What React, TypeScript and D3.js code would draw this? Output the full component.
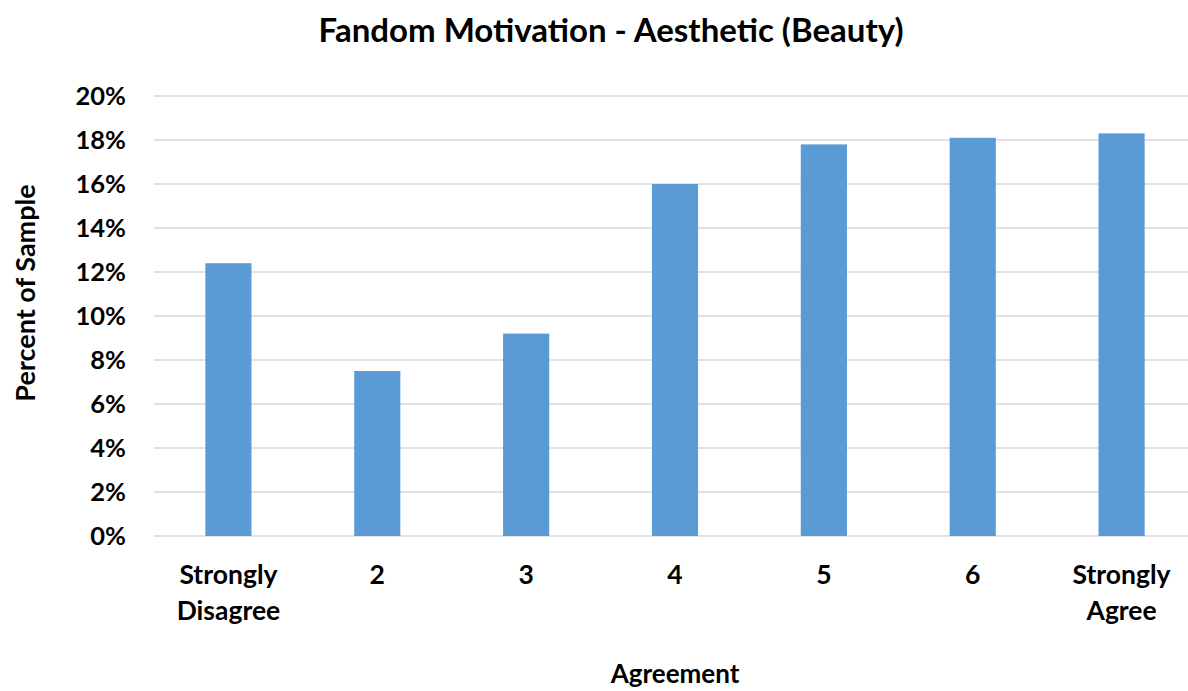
import React, { useRef, useEffect } from 'react';
import * as d3 from 'd3';

// Agreement categories (multi-line labels split on \n)
const categories = ['Strongly\nDisagree', '2', '3', '4', '5', '6', 'Strongly\nAgree'];
const percents = [12.4, 7.5, 9.2, 16.0, 17.8, 18.1, 18.3];
const yTicks = [0, 2, 4, 6, 8, 10, 12, 14, 16, 18, 20];

const W = 1188;
const H = 691;
const FONT = 'Lato, "Open Sans", "DejaVu Sans", sans-serif';
const BAR = '#5b9bd5';

export default function App() {
  const svgRef = useRef<SVGSVGElement>(null);

  useEffect(() => {
    if (!svgRef.current) return;
    const svg = d3.select(svgRef.current);
    svg.selectAll('*').remove();

    const margin = { top: 96, right: -8, bottom: 155, left: 154 };
    const iw = W - margin.left - margin.right;
    const ih = H - margin.top - margin.bottom;

    const g = svg.append('g').attr('transform', `translate(${margin.left},${margin.top})`);

    const x = d3.scaleBand().domain(categories).range([0, iw]).paddingInner(0.69).paddingOuter(0.345);
    const y = d3.scaleLinear().domain([0, 20]).range([ih, 0]);

    // gridlines
    g.selectAll('line.grid').data(yTicks).join('line')
      .attr('class', 'grid')
      .attr('x1', 0).attr('x2', iw)
      .attr('y1', d => y(d)).attr('y2', d => y(d))
      .attr('stroke', '#d9d9d9').attr('stroke-width', 1.5);

    // y tick labels
    g.selectAll('text.ytick').data(yTicks).join('text')
      .attr('class', 'ytick')
      .attr('x', -28)
      .attr('y', d => y(d))
      .attr('dy', '0.35em')
      .attr('text-anchor', 'end')
      .style('font-family', FONT).style('font-weight', 700).style('font-size', '25.5px')
      .style('fill', '#000')
      .text(d => `${d}%`);

    // bars
    g.selectAll('rect.bar').data(percents).join('rect')
      .attr('class', 'bar')
      .attr('x', (_, i) => x(categories[i]) || 0)
      .attr('width', x.bandwidth())
      .attr('y', d => y(d))
      .attr('height', d => ih - y(d))
      .attr('fill', BAR);

    // x labels
    const xl = g.selectAll('text.xtick').data(categories).join('text')
      .attr('class', 'xtick')
      .attr('transform', d => `translate(${(x(d) || 0) + x.bandwidth() / 2},${ih + 48})`)
      .attr('text-anchor', 'middle')
      .style('font-family', FONT).style('font-weight', 700).style('font-size', '26.5px')
      .style('fill', '#000');
    xl.each(function (d) {
      const t = d3.select(this);
      d.split('\n').forEach((line, k) => {
        t.append('tspan').attr('x', 0).attr('y', k * 36).text(line);
      });
    });

    // title
    svg.append('text')
      .attr('x', 611).attr('y', 42)
      .attr('text-anchor', 'middle')
      .style('font-family', FONT).style('font-weight', 700).style('font-size', '33px')
      .text('Fandom Motivation - Aesthetic (Beauty)');

    // axis titles
    svg.append('text')
      .attr('x', 675).attr('y', 683)
      .attr('text-anchor', 'middle')
      .style('font-family', FONT).style('font-weight', 700).style('font-size', '26px')
      .text('Agreement');

    svg.append('text')
      .attr('transform', 'translate(35,293) rotate(-90)')
      .attr('text-anchor', 'middle')
      .style('font-family', FONT).style('font-weight', 700).style('font-size', '27px')
      .text('Percent of Sample');
  }, []);

  return (
    <svg ref={svgRef} width={W} height={H}
      style={{ position: 'absolute', left: 0, top: 0, background: '#fff' }} />
  );
}
